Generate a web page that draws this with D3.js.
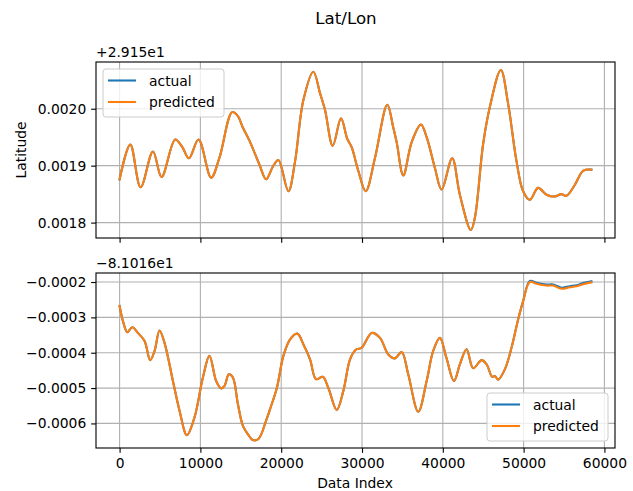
<!DOCTYPE html>
<html>
<head>
<meta charset="utf-8">
<script src="https://cdn.jsdelivr.net/npm/d3@7"></script>
<style>
  body { margin: 0; background: #fff; }
  text { font-family: "DejaVu Sans", sans-serif; fill: #000; }
</style>
</head>
<body>
<script>
// offsets shown on the axes ("+2.915e1" / "−8.1016e1")
var latOffsetLabel = "+2.915e1";
var lonOffsetLabel = "\u22128.1016e1";

// latitude minus 29.15
var latIndex = [0, 1320, 2600, 4130, 5190, 6880, 7750, 8580, 9770, 11330, 12360, 13930, 14640,
  15250, 16070, 17300, 18130, 18960, 19650, 20890, 21720, 22740, 23980, 24810, 25420, 26380,
  27400, 28180, 28730, 29540, 30460, 31610, 33130, 33870, 34290, 35110, 36140, 37290, 38000,
  39020, 39850, 41160, 42110, 43470, 43960, 44990, 45820, 47180, 48080, 49120, 49940, 50770,
  51790, 52830, 53860, 54680, 55300, 56330, 57360, 58390];
var latActual = [0.001876, 0.001937, 0.001862, 0.001925, 0.001880, 0.001946, 0.001933, 0.001913,
  0.001946, 0.001879, 0.001914, 0.001994, 0.001987, 0.001967, 0.001944, 0.001902, 0.001876,
  0.001898, 0.001910, 0.001855, 0.001908, 0.002015, 0.002065, 0.002027, 0.001998, 0.001935,
  0.001983, 0.001947, 0.001932, 0.001891, 0.001855, 0.001914, 0.002007, 0.001967, 0.001941,
  0.001883, 0.001941, 0.001972, 0.001950, 0.001896, 0.001858, 0.001913, 0.001849, 0.001787,
  0.001808, 0.001938, 0.002003, 0.002068, 0.002009, 0.001908, 0.001855, 0.001840, 0.001861,
  0.001849, 0.001846, 0.001850, 0.001847, 0.001866, 0.001891, 0.001893];
var latPredicted = latActual.slice();

// longitude plus 81.016
var lonIndex = [0, 420, 950, 1570, 2270, 3090, 3790, 4330, 4940, 5560, 6600, 7420, 8330, 9270,
  10310, 11120, 11950, 12570, 12980, 13520, 14020, 14640, 15250, 15870, 16490, 17180, 18130,
  18630, 19460, 20270, 21100, 22000, 22740, 23570, 24310, 25140, 25830, 26870, 27690, 28520,
  29260, 29960, 31200, 32230, 33250, 34080, 34910, 35720, 36960, 38000, 38810, 39640, 40440,
  41380, 42110, 42940, 43760, 44800, 45420, 46110, 46440, 46850, 47680, 48500, 49320, 49940,
  50770, 51600, 52830, 53650, 54680, 55710, 56540, 57360, 58390];
var lonActual = [-0.000268, -0.000311, -0.000342, -0.000328, -0.000344, -0.000367, -0.000421,
  -0.000395, -0.000337, -0.000372, -0.000480, -0.000564, -0.000633, -0.000583, -0.000470,
  -0.000409, -0.000480, -0.000501, -0.000494, -0.000461, -0.000470, -0.000545, -0.000606,
  -0.000630, -0.000647, -0.000644, -0.000592, -0.000559, -0.000500, -0.000409, -0.000362,
  -0.000346, -0.000376, -0.000419, -0.000475, -0.000468, -0.000499, -0.000562, -0.000508,
  -0.000419, -0.000391, -0.000386, -0.000344, -0.000358, -0.000405, -0.000416, -0.000398,
  -0.000461, -0.000567, -0.000480, -0.000395, -0.000358, -0.000414, -0.000480, -0.000433,
  -0.000390, -0.000444, -0.000421, -0.000433, -0.000468, -0.000466, -0.000476, -0.000447,
  -0.000386, -0.000306, -0.000254, -0.000197, -0.000202, -0.000207, -0.000207, -0.000216,
  -0.000212, -0.000209, -0.000203, -0.000198];
var lonPredicted = [-0.000268, -0.000311, -0.000342, -0.000328, -0.000344, -0.000367, -0.000421,
  -0.000395, -0.000337, -0.000372, -0.000480, -0.000564, -0.000633, -0.000583, -0.000470,
  -0.000409, -0.000480, -0.000501, -0.000494, -0.000461, -0.000470, -0.000545, -0.000606,
  -0.000630, -0.000647, -0.000644, -0.000592, -0.000559, -0.000500, -0.000409, -0.000362,
  -0.000346, -0.000376, -0.000419, -0.000475, -0.000468, -0.000499, -0.000562, -0.000508,
  -0.000419, -0.000391, -0.000386, -0.000344, -0.000358, -0.000405, -0.000416, -0.000398,
  -0.000461, -0.000567, -0.000480, -0.000395, -0.000358, -0.000414, -0.000480, -0.000433,
  -0.000390, -0.000444, -0.000421, -0.000433, -0.000468, -0.000466, -0.000476, -0.000447,
  -0.000386, -0.000306, -0.000254, -0.000200, -0.000205, -0.000210, -0.000210, -0.000219,
  -0.000215, -0.000212, -0.000206, -0.000201];

var xTicks = [0, 10000, 20000, 30000, 40000, 50000, 60000];
var latTicks = [0.0018, 0.0019, 0.0020];
var lonTicks = [-0.0006, -0.0005, -0.0004, -0.0003, -0.0002];

var seriesNames = ["actual", "predicted"];
var colors = ["#1f77b4", "#ff7f0e"];

// matplotlib points -> pixels at 100 dpi
var pt = 100 / 72;
var fontSize = 10 * pt;
var tickLen = 3.5 * pt;

var width = 633, height = 491;
var plotLeft = 96, plotRight = 615;
var panels = [
  { top: 62, bottom: 238, idx: latIndex, vals: [latActual, latPredicted], ticks: latTicks,
    offset: latOffsetLabel, label: "Latitude", showX: false, legend: "upper left" },
  { top: 273, bottom: 448, idx: lonIndex, vals: [lonActual, lonPredicted], ticks: lonTicks,
    offset: lonOffsetLabel, label: "Longitude", showX: true, legend: "lower right" }
];

var svg = d3.select("body").append("svg")
  .attr("width", width)
  .attr("height", height);

// shared x scale with matplotlib's 5% margins
var xMin = d3.min(latIndex.concat(lonIndex)), xMax = d3.max(latIndex.concat(lonIndex));
var xPad = (xMax - xMin) * 0.05;
var xScale = d3.scaleLinear()
  .domain([xMin - xPad, xMax + xPad])
  .range([plotLeft, plotRight]);

var fmt = d3.format(".4f");

panels.forEach(function (p, pi) {
  var allVals = p.vals[0].concat(p.vals[1]);
  var lo = d3.min(allVals), hi = d3.max(allVals);
  var yPad = (hi - lo) * 0.05;
  var yScale = d3.scaleLinear()
    .domain([lo - yPad, hi + yPad])
    .range([p.bottom, p.top]);

  var g = svg.append("g");

  // grid
  g.append("g").selectAll("line").data(xTicks).enter().append("line")
    .attr("x1", d => xScale(d)).attr("x2", d => xScale(d))
    .attr("y1", p.top).attr("y2", p.bottom)
    .attr("stroke", "#b0b0b0").attr("stroke-width", 0.8 * pt);
  g.append("g").selectAll("line").data(p.ticks).enter().append("line")
    .attr("x1", plotLeft).attr("x2", plotRight)
    .attr("y1", d => yScale(d)).attr("y2", d => yScale(d))
    .attr("stroke", "#b0b0b0").attr("stroke-width", 0.8 * pt);

  // clip for the lines
  svg.append("clipPath").attr("id", "clip" + pi).append("rect")
    .attr("x", plotLeft).attr("y", p.top)
    .attr("width", plotRight - plotLeft).attr("height", p.bottom - p.top);

  var line = d3.line()
    .x((d, i) => xScale(p.idx[i]))
    .y(d => yScale(d))
    .curve(d3.curveCatmullRom);

  p.vals.forEach(function (vals, si) {
    g.append("path")
      .datum(vals)
      .attr("clip-path", "url(#clip" + pi + ")")
      .attr("fill", "none")
      .attr("stroke", colors[si])
      .attr("stroke-width", 1.5 * pt)
      .attr("stroke-linejoin", "round")
      .attr("stroke-linecap", "square")
      .attr("d", line);
  });

  // axes
  var xAxis = d3.axisBottom(xScale).tickValues(xTicks)
    .tickSize(tickLen).tickPadding(tickLen)
    .tickFormat(p.showX ? d3.format("d") : "");
  var yAxis = d3.axisLeft(yScale).tickValues(p.ticks)
    .tickSize(tickLen).tickPadding(tickLen)
    .tickFormat(fmt);

  var gx = g.append("g")
    .attr("transform", "translate(0," + p.bottom + ")")
    .call(xAxis);
  var gy = g.append("g")
    .attr("transform", "translate(" + plotLeft + ",0)")
    .call(yAxis);
  [gx, gy].forEach(function (a) {
    a.select(".domain").remove();
    a.selectAll(".tick line").attr("stroke", "#000").attr("stroke-width", 0.8 * pt);
    a.selectAll(".tick text").attr("font-size", fontSize)
      .attr("font-family", "DejaVu Sans").attr("fill", "#000");
  });

  // frame
  g.append("rect")
    .attr("x", plotLeft).attr("y", p.top)
    .attr("width", plotRight - plotLeft).attr("height", p.bottom - p.top)
    .attr("fill", "none").attr("stroke", "#000").attr("stroke-width", 0.8 * pt);

  // offset text
  g.append("text")
    .attr("x", plotLeft).attr("y", p.top - 5)
    .attr("font-size", fontSize)
    .text(p.offset);

  // legend
  var lw = 121, lh = 48;
  var lx = p.legend === "upper left" ? plotLeft + 7 : plotRight - 7 - lw;
  var ly = p.legend === "upper left" ? p.top + 7 : p.bottom - 7 - lh;
  var leg = g.append("g").attr("transform", "translate(" + lx + "," + ly + ")");
  leg.append("rect")
    .attr("width", lw).attr("height", lh).attr("rx", 3)
    .attr("fill", "#fff").attr("fill-opacity", 0.8)
    .attr("stroke", "#cccccc").attr("stroke-width", 1);
  seriesNames.forEach(function (name, si) {
    var cy = 11.5 + si * 21.5;
    leg.append("line")
      .attr("x1", 5).attr("x2", 33).attr("y1", cy).attr("y2", cy)
      .attr("stroke", colors[si]).attr("stroke-width", 1.5 * pt);
    leg.append("text")
      .attr("x", 46).attr("y", cy + 5)
      .attr("font-size", fontSize)
      .text(name);
  });
});

// y labels
svg.append("text")
  .attr("transform", "translate(26,150) rotate(-90)")
  .attr("text-anchor", "middle")
  .attr("font-size", fontSize)
  .text("Latitude");

// the Longitude label is mostly cut off at the left edge of the picture
svg.append("clipPath").attr("id", "clipLon").append("rect")
  .attr("x", 9.5).attr("y", 300).attr("width", 12).attr("height", 120);
svg.append("text")
  .attr("clip-path", "url(#clipLon)")
  .attr("transform", "translate(12.5,363) rotate(-90)")
  .attr("text-anchor", "middle")
  .attr("font-size", fontSize)
  .text("Longitude");

// x label
svg.append("text")
  .attr("x", 355).attr("y", 488)
  .attr("text-anchor", "middle")
  .attr("font-size", fontSize)
  .text("Data Index");

// title
svg.append("text")
  .attr("x", 346).attr("y", 24)
  .attr("text-anchor", "middle")
  .attr("font-size", 12 * pt)
  .text("Lat/Lon");
</script>
</body>
</html>
